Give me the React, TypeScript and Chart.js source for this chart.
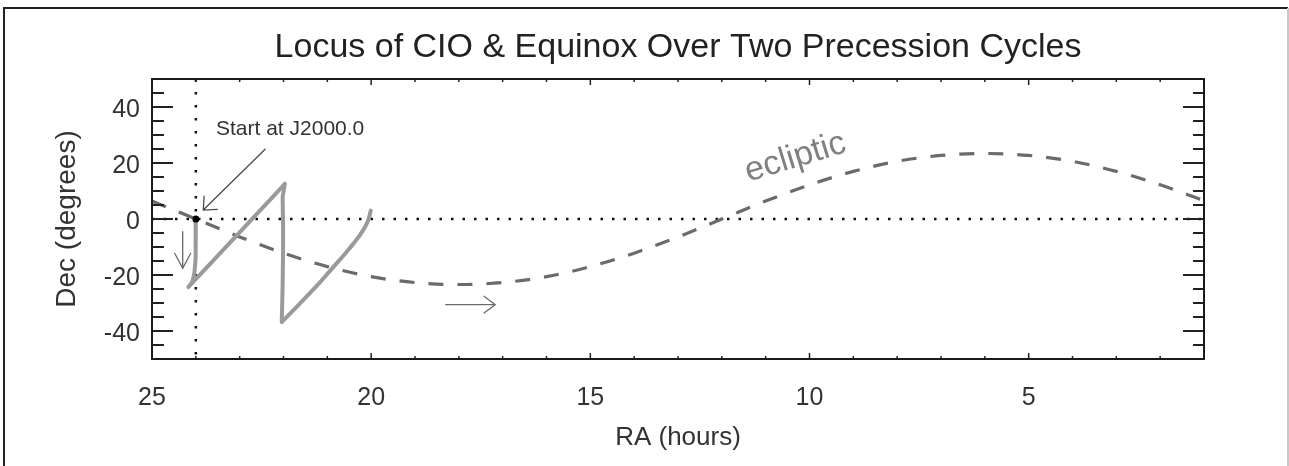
import React, { useEffect, useRef } from 'react';
import { Chart, registerables } from 'chart.js';

Chart.register(...registerables);

// ---------- data (RA in hours, Dec in degrees) ----------
const eclipticRA = [25, 24, 23, 22, 21, 20, 19, 18, 17, 16, 15, 14, 13, 12, 11, 10, 9, 8, 7, 6, 5, 4, 3, 2, 1];
const eclipticDec = [6.4, 0, -6.4, -12.2, -17.0, -20.6, -22.7, -23.4, -22.7, -20.6, -17.0, -12.2, -6.4, 0, 6.4, 12.2, 17.0, 20.6, 22.7, 23.4, 22.7, 20.6, 17.0, 12.2, 6.6];

const cioRA = [24.0, 24.0, 24.01, 24.03, 24.08, 24.17, 24.05, 23.7, 23.3, 22.9, 22.5, 22.2, 21.97, 22.02, 22.01, 22.01, 22.02, 22.04, 21.6, 21.2, 20.86, 20.6, 20.4, 20.25, 20.15, 20.08, 20.04, 20.01];
const cioDec = [0, -8, -14, -19, -22.5, -24.3, -22.3, -16.5, -9.8, -3.1, 3.6, 8.6, 12.6, 7.8, -2, -11, -24, -36.8, -29.8, -23.2, -17.1, -12.5, -8.7, -5.6, -3.2, -1.0, 0.9, 3.0];

const startRA = [24];
const startDec = [0];

const refRA = 24; // vertical dotted line
const refDec = 0; // horizontal dotted line

const xTickValues = [25, 20, 15, 10, 5];
const xMinorTicks = [24, 23, 22, 21, 19, 18, 17, 16, 14, 13, 12, 11, 9, 8, 7, 6, 4, 3, 2];
const yTickValues = [-40, -20, 0, 20, 40];
const yMinorTicks = [-45, -35, -30, -25, -15, -10, -5, 5, 10, 15, 25, 30, 35, 45];

const titleText = 'Locus of CIO & Equinox Over Two Precession Cycles';
const xTitle = 'RA (hours)';
const yTitle = 'Dec (degrees)';

// annotations (data coordinates)
const startLabel = { text: 'Start at J2000.0', ra: 23.54, dec: 32.1 };
const startArrow = { fromRA: 22.42, fromDec: 24.9, toRA: 23.83, toDec: 3.2 };
const downArrow = { ra: 24.3, fromDec: -4.5, toDec: -17.6 };
const rightArrow = { dec: -30.6, fromRA: 18.3, toRA: 17.17 };
const eclipticLabel = { text: 'ecliptic', ra: 10.26, dec: 18.7, angleDeg: -17 };

const FONT = "'Liberation Sans', Arial, Helvetica, sans-serif";

function drawArrow(ctx: CanvasRenderingContext2D, x1: number, y1: number, x2: number, y2: number, head: number, spread: number) {
  ctx.beginPath();
  ctx.moveTo(x1, y1);
  ctx.lineTo(x2, y2);
  const ang = Math.atan2(y1 - y2, x1 - x2);
  const a = (spread * Math.PI) / 180;
  ctx.moveTo(x2 + head * Math.cos(ang + a), y2 + head * Math.sin(ang + a));
  ctx.lineTo(x2, y2);
  ctx.lineTo(x2 + head * Math.cos(ang - a), y2 + head * Math.sin(ang - a));
  ctx.stroke();
}

const decorPlugin = {
  id: 'decor',
  beforeDraw(chart: any) {
    const ctx = chart.ctx as CanvasRenderingContext2D;
    ctx.save();
    ctx.fillStyle = '#fff';
    ctx.fillRect(0, 0, chart.width, chart.height);
    ctx.lineWidth = 2;
    ctx.strokeStyle = '#222';
    ctx.beginPath();
    ctx.moveTo(4, chart.height);
    ctx.lineTo(4, 8);
    ctx.lineTo(1288, 8);
    ctx.stroke();
    ctx.strokeStyle = '#c8c8c8';
    ctx.beginPath();
    ctx.moveTo(1288, 8);
    ctx.lineTo(1288, chart.height);
    ctx.stroke();
    ctx.restore();
  },
  afterDatasetsDraw(chart: any) {
    const ctx = chart.ctx as CanvasRenderingContext2D;
    const { left, right, top, bottom } = chart.chartArea;
    const xs = chart.scales.x;
    const ys = chart.scales.y;
    ctx.save();

    // ticks
    ctx.strokeStyle = '#222';
    ctx.lineWidth = 2;
    ctx.beginPath();
    yTickValues.forEach((v) => {
      const py = ys.getPixelForValue(v);
      ctx.moveTo(left, py); ctx.lineTo(left + 21, py);
      ctx.moveTo(right, py); ctx.lineTo(right - 21, py);
    });
    yMinorTicks.forEach((v) => {
      const py = ys.getPixelForValue(v);
      ctx.moveTo(left, py); ctx.lineTo(left + 12, py);
      ctx.moveTo(right, py); ctx.lineTo(right - 11, py);
    });
    ctx.stroke();
    ctx.lineWidth = 1.5;
    ctx.beginPath();
    xTickValues.forEach((v) => {
      const px = xs.getPixelForValue(v);
      ctx.moveTo(px, bottom); ctx.lineTo(px, bottom - 6);
      ctx.moveTo(px, top); ctx.lineTo(px, top + 6);
    });
    xMinorTicks.forEach((v) => {
      const px = xs.getPixelForValue(v);
      ctx.moveTo(px, bottom); ctx.lineTo(px, bottom - 3);
      ctx.moveTo(px, top); ctx.lineTo(px, top + 3);
    });
    ctx.stroke();

    // frame
    ctx.lineWidth = 2;
    ctx.strokeStyle = '#1a1a1a';
    ctx.strokeRect(left, top, right - left, bottom - top);

    // arrows
    ctx.lineCap = 'round';
    ctx.strokeStyle = '#4a4a4a';
    ctx.lineWidth = 1.3;
    drawArrow(ctx,
      xs.getPixelForValue(startArrow.fromRA), ys.getPixelForValue(startArrow.fromDec),
      xs.getPixelForValue(startArrow.toRA), ys.getPixelForValue(startArrow.toDec), 14, 42);
    ctx.strokeStyle = '#6a6a6a';
    drawArrow(ctx,
      xs.getPixelForValue(downArrow.ra), ys.getPixelForValue(downArrow.fromDec),
      xs.getPixelForValue(downArrow.ra), ys.getPixelForValue(downArrow.toDec), 17, 28);
    drawArrow(ctx,
      xs.getPixelForValue(rightArrow.fromRA), ys.getPixelForValue(rightArrow.dec),
      xs.getPixelForValue(rightArrow.toRA), ys.getPixelForValue(rightArrow.dec), 14, 37);

    // texts
    ctx.fillStyle = '#333';
    ctx.font = `21px ${FONT}`;
    ctx.textAlign = 'left';
    ctx.textBaseline = 'middle';
    ctx.fillText(startLabel.text, xs.getPixelForValue(startLabel.ra), ys.getPixelForValue(startLabel.dec));

    ctx.save();
    ctx.translate(xs.getPixelForValue(eclipticLabel.ra), ys.getPixelForValue(eclipticLabel.dec));
    ctx.rotate((eclipticLabel.angleDeg * Math.PI) / 180);
    ctx.fillStyle = '#808080';
    ctx.font = `34px ${FONT}`;
    ctx.textAlign = 'center';
    ctx.textBaseline = 'alphabetic';
    ctx.fillText(eclipticLabel.text, 0, 0);
    ctx.restore();

    ctx.restore();
  },
};

export default function App() {
  const ref = useRef<HTMLCanvasElement | null>(null);

  useEffect(() => {
    if (!ref.current) return;
    const ecliptic = eclipticRA.map((r, i) => ({ x: r, y: eclipticDec[i] }));
    const cio = cioRA.map((r, i) => ({ x: r, y: cioDec[i] }));
    const start = startRA.map((r, i) => ({ x: r, y: startDec[i] }));

    const chart = new Chart(ref.current, {
      type: 'scatter',
      data: {
        datasets: [
          {
            label: 'J2000.0',
            data: start,
            showLine: false,
            pointRadius: 3.5,
            pointBackgroundColor: '#000',
            pointBorderColor: '#000',
            pointBorderWidth: 0,
          },
          {
            label: 'CIO',
            data: cio,
            showLine: true,
            borderColor: '#9a9a9a',
            borderWidth: 4,
            pointRadius: 0,
            tension: 0,
            borderJoinStyle: 'round',
            borderCapStyle: 'round',
          },
          {
            label: 'ecliptic',
            data: ecliptic,
            showLine: true,
            borderColor: '#6b6b6b',
            borderWidth: 3.2,
            borderDash: [15, 14],
            pointRadius: 0,
            cubicInterpolationMode: 'monotone',
          },
          {
            label: 'equator',
            data: [{ x: 25, y: refDec }, { x: 1, y: refDec }],
            showLine: true,
            borderColor: '#111',
            borderWidth: 2.5,
            borderDash: [2.5, 9],
            pointRadius: 0,
          },
          {
            label: 'J2000 RA',
            data: [{ x: refRA, y: 50 }, { x: refRA, y: -50 }],
            showLine: true,
            borderColor: '#111',
            borderWidth: 2.5,
            borderDash: [2.5, 10.5],
            pointRadius: 0,
          },
        ],
      },
      options: {
        animation: false,
        responsive: false,
        devicePixelRatio: 1,
        layout: { padding: { left: 0, right: 85, top: 0, bottom: 0 } },
        plugins: {
          legend: { display: false },
          tooltip: { enabled: false },
          title: {
            display: true,
            text: titleText,
            fullSize: false,
            color: '#222',
            font: { family: FONT, size: 34, weight: 'normal' },
            padding: { top: 27.6, bottom: 10.6 },
          },
        },
        scales: {
          x: {
            type: 'linear',
            min: 1,
            max: 25,
            reverse: true,
            afterBuildTicks: (s: any) => { s.ticks = xTickValues.map((v) => ({ value: v })); },
            afterFit: (s: any) => { s.height = 107; },
            grid: { display: false, drawTicks: false },
            border: { display: false },
            ticks: {
              padding: 24,
              color: '#333',
              maxRotation: 0,
              autoSkip: false,
              font: { family: FONT, size: 25 },
            },
            title: {
              display: true,
              text: xTitle,
              color: '#333',
              font: { family: FONT, size: 26 },
              padding: { top: 0, bottom: 12.4 },
            },
          },
          y: {
            type: 'linear',
            min: -50,
            max: 50,
            afterBuildTicks: (s: any) => { s.ticks = yTickValues.map((v) => ({ value: v })); },
            afterFit: (s: any) => { s.width = 152; },
            grid: { display: false, drawTicks: false },
            border: { display: false },
            ticks: {
              padding: 12,
              labelOffset: 3,
              color: '#333',
              autoSkip: false,
              font: { family: FONT, size: 25 },
            },
            title: {
              display: true,
              text: yTitle,
              color: '#333',
              font: { family: FONT, size: 28 },
              padding: { top: 50.2, bottom: 0 },
            },
          },
        },
      },
      plugins: [decorPlugin],
    } as any);
    return () => chart.destroy();
  }, []);

  return (
    <div style={{ position: 'fixed', left: 0, top: 0, width: 1289, height: 466, background: '#fff' }}>
      <canvas ref={ref} width={1289} height={466} style={{ display: 'block', width: 1289, height: 466 }} />
    </div>
  );
}
